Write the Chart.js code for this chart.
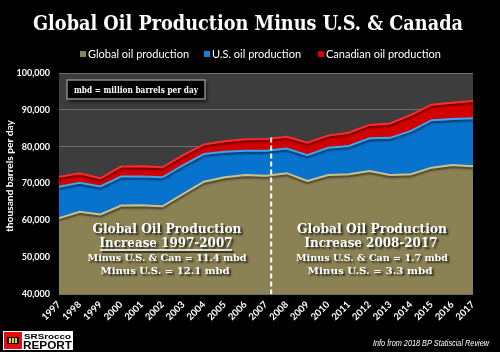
<!DOCTYPE html>
<html>
<head>
<meta charset="utf-8">
<script src="https://cdn.jsdelivr.net/npm/chart.js@4"></script>
<style>
  html, body { margin: 0; padding: 0; background: #000; }
  #wrap { width: 500px; height: 352px; }
</style>
</head>
<body>
<div id="wrap"><canvas id="oilChart" width="500" height="352"></canvas></div>
<script>
// thousand barrels per day
const years = ['1997', '1998', '1999', '2000', '2001', '2002', '2003', '2004', '2005', '2006', '2007',
    '2008', '2009', '2010', '2011', '2012', '2013', '2014', '2015', '2016', '2017'];
const globalMinusUsCan = [60600, 62300, 61600, 64000, 64100, 63800, 67200, 70500, 71700, 72300, 72100,
    72800, 70700, 72300, 72500, 73400, 72300, 72500, 74300, 75000, 74700];
const usProduction = [8500, 7900, 7600, 7900, 7800, 7900, 7800, 7500, 6900, 6600, 6800,
    6700, 7000, 7400, 7700, 8900, 10100, 11800, 12900, 12500, 13000];
const canadaProduction = [2700, 2600, 2200, 2700, 2800, 2700, 2700, 2600, 2900, 3100, 3200,
    3200, 3400, 3300, 3600, 3600, 3900, 4300, 4200, 4400, 4700];
const yTicks = [40000, 50000, 60000, 70000, 80000, 90000, 100000];

const legendItems = [
    { text: 'Global oil production', color: '#8a8254', x: 80 },
    { text: 'U.S. oil production', color: '#1a7fd6', x: 204 },
    { text: 'Canadian oil production', color: '#d40000', x: 318 }
];

// draw text squeezed/stretched to a given width
function fitText(ctx, text, x, y, font, width, align) {
    ctx.save();
    ctx.font = font;
    const w = ctx.measureText(text).width;
    const s = width / w;
    let left = x;
    if (align === 'center') left = x - width / 2;
    if (align === 'right') left = x - width;
    ctx.translate(left, y);
    ctx.scale(s, 1);
    ctx.textAlign = 'left';
    ctx.fillText(text, 0, 0);
    ctx.restore();
}

const decorPlugin = {
    id: 'decor',
    beforeDraw(chart) {
        const ctx = chart.ctx;
        const a = chart.chartArea;
        ctx.save();
        ctx.fillStyle = '#000';
        ctx.fillRect(0, 0, chart.width, chart.height);
        ctx.fillStyle = '#3d3d3d';
        ctx.fillRect(a.left, a.top, a.right - a.left, a.bottom - a.top);
        ctx.restore();
    },
    // soft shadow under each top edge, like the bevel in the original
    beforeDatasetDraw(chart) {
        const ctx = chart.ctx;
        ctx.save();
        ctx.shadowColor = 'rgba(0,0,0,0.55)';
        ctx.shadowOffsetX = 0;
        ctx.shadowOffsetY = 2;
        ctx.shadowBlur = 2;
    },
    afterDatasetDraw(chart) {
        chart.ctx.restore();
    },
    afterDatasetsDraw(chart) {
        const ctx = chart.ctx;
        const xs = chart.scales.x, ys = chart.scales.y;
        const a = chart.chartArea;

        // dashed divider between the two periods
        const step = xs.getPixelForValue(1) - xs.getPixelForValue(0);
        const dx = xs.getPixelForValue(years.indexOf('2007')) + step * 0.25;
        ctx.save();
        ctx.strokeStyle = '#ffffff';
        ctx.lineWidth = 2;
        ctx.setLineDash([5, 3]);
        ctx.beginPath();
        ctx.moveTo(dx, ys.getPixelForValue(82500));
        ctx.lineTo(dx, a.bottom);
        ctx.stroke();
        ctx.restore();

        // mbd box
        ctx.save();
        ctx.shadowColor = 'rgba(0,0,0,0.6)';
        ctx.shadowOffsetX = 2;
        ctx.shadowOffsetY = 3;
        ctx.shadowBlur = 3;
        ctx.fillStyle = '#000';
        ctx.fillRect(67, 80, 138, 19);
        ctx.restore();
        ctx.save();
        ctx.strokeStyle = '#8a8a8a';
        ctx.lineWidth = 1.5;
        ctx.strokeRect(67, 80, 138, 19);
        ctx.fillStyle = '#fff';
        fitText(ctx, 'mbd = million barrels per day', 74, 93, 'bold 10px "DejaVu Serif"', 124, 'left');
        ctx.restore();

        // annotation blocks
        ctx.save();
        ctx.fillStyle = '#ffffff';
        ctx.shadowColor = 'rgba(0,0,0,0.75)';
        ctx.shadowOffsetX = 2;
        ctx.shadowOffsetY = 2;
        ctx.shadowBlur = 2;
        const big = 'bold 13px "DejaVu Serif"';
        const small = 'bold 10px "DejaVu Serif"';
        fitText(ctx, 'Global Oil Production', 167, 233, big, 149, 'center');
        fitText(ctx, 'Increase 1997-2007', 166, 247, big, 133, 'center');
        fitText(ctx, 'Minus U.S. & Can = 11.4 mbd', 167, 261, small, 159, 'center');
        fitText(ctx, 'Minus U.S. = 12.1 mbd', 165, 274, small, 129, 'center');
        fitText(ctx, 'Global Oil Production', 372, 233, big, 150, 'center');
        fitText(ctx, 'Increase 2008-2017', 371, 247, big, 133, 'center');
        fitText(ctx, 'Minus U.S. & Can = 1.7 mbd', 372, 261, small, 152, 'center');
        fitText(ctx, 'Minus U.S. = 3.3 mbd', 370, 274, small, 125, 'center');
        ctx.restore();
        // underline
        ctx.save();
        ctx.strokeStyle = '#fff';
        ctx.lineWidth = 1.3;
        ctx.shadowColor = 'rgba(0,0,0,0.75)';
        ctx.shadowOffsetX = 2;
        ctx.shadowOffsetY = 2;
        ctx.beginPath();
        ctx.moveTo(100, 250);
        ctx.lineTo(232, 250);
        ctx.stroke();
        ctx.restore();
    },
    afterDraw(chart) {
        const ctx = chart.ctx;
        ctx.save();
        // title
        ctx.fillStyle = '#ffffff';
        fitText(ctx, 'Global Oil Production Minus U.S. & Canada', 248, 30, 'bold 20px "DejaVu Serif"', 430, 'center');

        // legend
        legendItems.forEach(item => {
            ctx.fillStyle = item.color;
            ctx.fillRect(item.x, 51, 6, 6);
            ctx.fillStyle = '#ffffff';
            ctx.font = '11px Lato';
            ctx.textBaseline = 'alphabetic';
            ctx.fillText(item.text, item.x + 8, 58);
        });

        // y axis title
        ctx.save();
        ctx.translate(13, 176);
        ctx.rotate(-Math.PI / 2);
        ctx.fillStyle = '#ffffff';
        fitText(ctx, 'thousand barrels per day', 0, 0, 'bold 10px Lato', 112, 'center');
        ctx.restore();

        // source
        ctx.fillStyle = '#ffffff';
        fitText(ctx, 'Info from 2018 BP Statiscial Review', 373, 346, 'italic 9px "Liberation Sans"', 116, 'left');

        // logo
        ctx.fillStyle = '#ffffff';
        ctx.fillRect(3, 331, 70, 19);
        ctx.fillStyle = '#e01010';
        ctx.fillRect(4, 332, 18, 17);
        ctx.fillStyle = '#000';
        ctx.fillRect(7, 337, 12, 7);
        ctx.fillStyle = '#f2d600';
        ctx.fillRect(9, 338, 2, 5);
        ctx.fillRect(12, 338, 2, 5);
        ctx.fillRect(15, 338, 2, 5);
        ctx.fillStyle = '#000';
        fitText(ctx, 'SRSrocco', 24, 339, 'bold 8px "Liberation Sans"', 47, 'left');
        fitText(ctx, 'REPORT', 23, 349, 'bold 11px "Liberation Sans"', 49, 'left');
        ctx.restore();
    }
};

const ctx = document.getElementById('oilChart').getContext('2d');
new Chart(ctx, {
    type: 'line',
    data: {
        labels: years,
        datasets: [
            {
                label: 'Global oil production',
                data: globalMinusUsCan,
                backgroundColor: '#8a8254',
                borderColor: '#c9c08c',
                borderWidth: 2,
                fill: 'start',
                pointRadius: 0,
                tension: 0
            },
            {
                label: 'U.S. oil production',
                data: usProduction,
                backgroundColor: '#0873cc',
                borderColor: '#38a6f2',
                borderWidth: 2,
                fill: '-1',
                pointRadius: 0,
                tension: 0
            },
            {
                label: 'Canadian oil production',
                data: canadaProduction,
                backgroundColor: '#d20000',
                borderColor: '#ff2a2a',
                borderWidth: 2,
                fill: '-1',
                pointRadius: 0,
                tension: 0
            }
        ]
    },
    options: {
        responsive: false,
        animation: false,
        layout: { padding: { top: 73, right: 27, left: 0, bottom: 0 } },
        plugins: {
            legend: { display: false },
            title: { display: false },
            tooltip: { enabled: false }
        },
        scales: {
            x: {
                offset: false,
                grid: { display: false, drawTicks: false },
                border: { display: false },
                ticks: {
                    color: '#ffffff',
                    font: { family: 'Lato', weight: 'bold', size: 9.5 },
                    minRotation: 45,
                    maxRotation: 45,
                    autoSkip: false,
                    padding: 5
                },
                afterFit: scale => { scale.height = 58; }
            },
            y: {
                stacked: true,
                min: 40000,
                max: 100000,
                afterBuildTicks: scale => { scale.ticks = yTicks.map(v => ({ value: v })); },
                grid: { color: '#6e6e6e', lineWidth: 1, drawTicks: false },
                border: { display: false },
                ticks: {
                    color: '#ffffff',
                    font: { family: 'Lato', weight: 'bold', size: 9 },
                    padding: 9,
                    callback: v => v.toLocaleString('en-US')
                },
                afterFit: scale => { scale.width = 59; }
            }
        }
    },
    plugins: [decorPlugin]
});
</script>
</body>
</html>
